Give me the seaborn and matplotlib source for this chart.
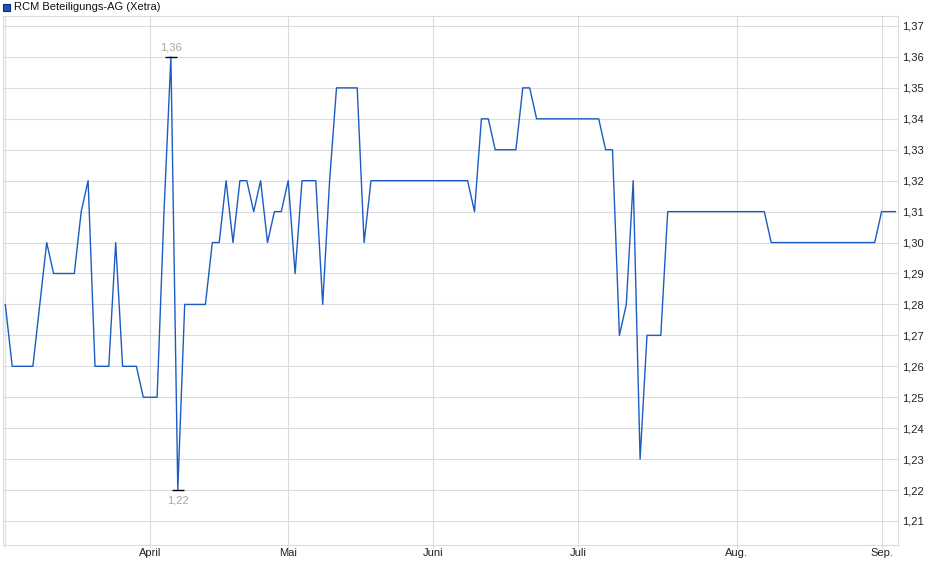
import numpy as np
import pandas as pd
import matplotlib
matplotlib.use("Agg")
import matplotlib.pyplot as plt
from matplotlib.patches import Rectangle
import seaborn as sns

# ---- data (closing prices, trading days 2025-03-03 .. 2025-09-03) ----
holidays = ["2025-04-18", "2025-04-21", "2025-05-01"]
start_date = "2025-03-03"
end_date = "2025-09-03"

prices = [
    # March
    1.28, 1.26, 1.26, 1.26, 1.26, 1.28, 1.30, 1.29, 1.29, 1.29, 1.29,
    1.31, 1.32, 1.26, 1.26, 1.26, 1.30, 1.26, 1.26, 1.26, 1.25,
    # April
    1.25, 1.25, 1.31, 1.36, 1.22, 1.28, 1.28, 1.28, 1.28, 1.30, 1.30,
    1.32, 1.30, 1.32, 1.32, 1.31, 1.32, 1.30, 1.31, 1.31,
    # May
    1.32, 1.29, 1.32, 1.32, 1.32, 1.28, 1.32, 1.35, 1.35, 1.35, 1.35,
    1.30, 1.32, 1.32, 1.32, 1.32, 1.32, 1.32, 1.32, 1.32, 1.32,
    # June
    1.32, 1.32, 1.32, 1.32, 1.32, 1.32, 1.31, 1.34, 1.34, 1.33, 1.33,
    1.33, 1.33, 1.35, 1.35, 1.34, 1.34, 1.34, 1.34, 1.34, 1.34,
    # July
    1.34, 1.34, 1.34, 1.34, 1.33, 1.33, 1.27, 1.28, 1.32, 1.23, 1.27,
    1.27, 1.27, 1.31, 1.31, 1.31, 1.31, 1.31, 1.31, 1.31, 1.31,
    1.31, 1.31,
    # August
    1.31, 1.31, 1.31, 1.31, 1.31, 1.30, 1.30, 1.30, 1.30, 1.30, 1.30,
    1.30, 1.30, 1.30, 1.30, 1.30, 1.30, 1.30, 1.30, 1.30, 1.30,
    # September
    1.31, 1.31, 1.31,
]

tick_labels = ["", "April", "Mai", "Juni", "Juli", "Aug.", "Sep."]
y_ticks = [1.21, 1.22, 1.23, 1.24, 1.25, 1.26, 1.27, 1.28, 1.29,
           1.30, 1.31, 1.32, 1.33, 1.34, 1.35, 1.36, 1.37]
title = "RCM Beteiligungs-AG (Xetra)"

# ---- build frame ----
dates = pd.bdate_range(start_date, end_date)
dates = dates[~dates.isin(pd.to_datetime(holidays))]
n = min(len(dates), len(prices))
df = pd.DataFrame({"date": dates[:n], "price": prices[:n]})
df["idx"] = np.arange(n)
month_key = df["date"].dt.to_period("M")
month_starts = df.groupby(month_key)["idx"].min().values

sns.set_theme(style="white")
plt.rcParams["font.family"] = ["Liberation Sans", "DejaVu Sans"]

fig = plt.figure(figsize=(9.4, 5.79), dpi=100)
W, H = 940, 579
left, right, top, bottom = 2.7, 898.3, 16, 545
ax = fig.add_axes([left / W, 1 - bottom / H, (right - left) / W, (bottom - top) / H])

line_color = "#1b5cc2"
grid_color = "#dcdcdc"

sns.lineplot(data=df, x="idx", y="price", ax=ax, color=line_color,
             linewidth=1.0, legend=False)

# scale: px per step 6.9, first point at x=5.3
step = (895.4 - 5.3) / (n - 1)
x0 = -(5.3 - left) / step
x1 = (n - 1) + (right - 895.4) / step
ax.set_xlim(x0, x1)
ypx = (521 - 26) / 16  # px per 0.01
ax.set_ylim(1.21 - (bottom - 521) / ypx / 100, 1.37 + (26 - top) / ypx / 100)

ax.set_xticks(month_starts)
ax.set_xticklabels(tick_labels[:len(month_starts)])
ax.set_yticks(y_ticks)
ax.set_yticklabels([f"{v:.2f}".replace(".", ",") for v in y_ticks])
ax.yaxis.tick_right()
ax.set_xlabel("")
ax.set_ylabel("")

ax.grid(True, color=grid_color, linewidth=0.8)
ax.set_axisbelow(True)
for s in ax.spines.values():
    s.set_color(grid_color)
    s.set_linewidth(0.8)
    s.set_visible(True)

ax.tick_params(axis="x", bottom=True, length=2, width=0.8, color=grid_color,
               labelsize=8, labelcolor="#222222", pad=0.5)
ax.tick_params(axis="y", right=True, left=False, length=0, labelsize=8,
               labelcolor="#222222", pad=3)

# high / low markers
imax = int(df["price"].idxmax())
imin = int(df["price"].idxmin())
for i, off, va in [(imax, 9, "center"), (imin, -10, "center")]:
    v = df.loc[i, "price"]
    ax.plot([df.loc[i, "idx"]], [v], marker="_", markersize=9, mew=1.0,
            color="black", zorder=5)
    ax.annotate(f"{v:.2f}".replace(".", ","), (df.loc[i, "idx"], v),
                xytext=(0, off), textcoords="offset pixels",
                ha="center", va=va, fontsize=8, color="#aaa49c")

# legend-like title
fig.add_artist(Rectangle((3 / W, 1 - 11 / H), 7 / W, 7 / H,
                         transform=fig.transFigure, facecolor="#1a56b8",
                         edgecolor="#0d2d66", linewidth=0.8))
fig.text(14 / W, 1 - 7 / H, title, ha="left", va="center", fontsize=8,
         color="#111111")

fig.savefig("out.png", dpi=100)
